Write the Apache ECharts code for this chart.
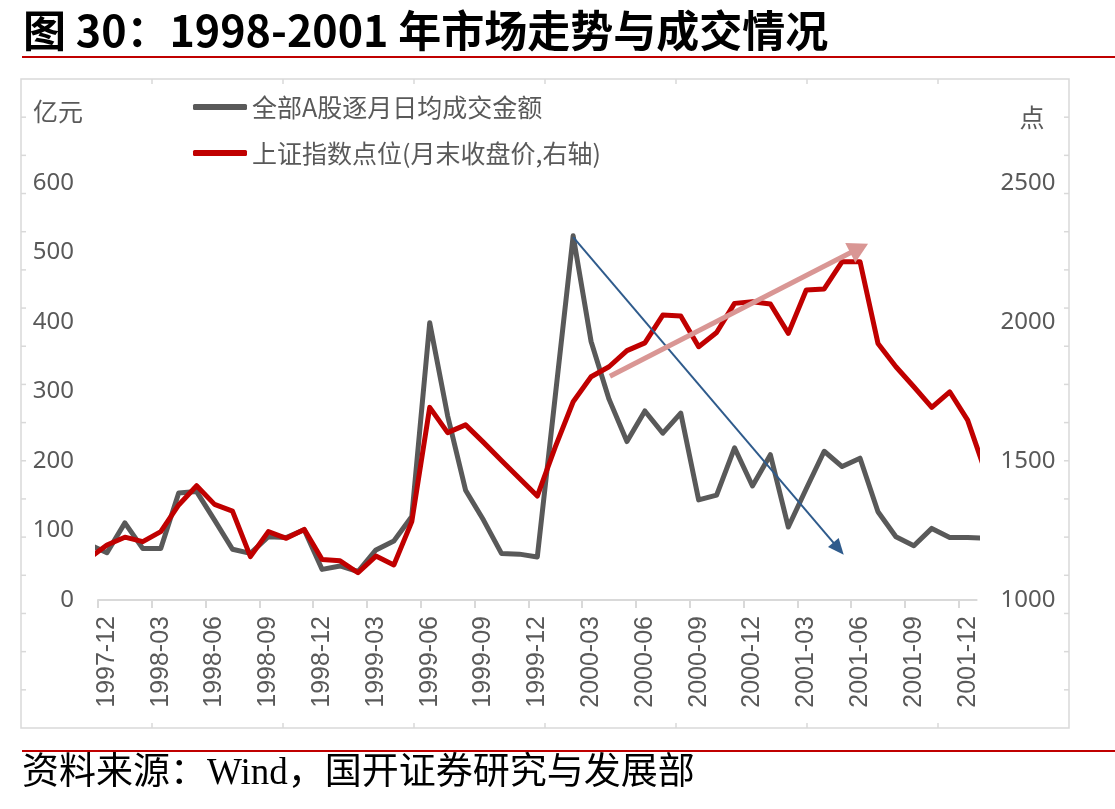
<!DOCTYPE html>
<html><head><meta charset="utf-8">
<script src="https://cdn.jsdelivr.net/npm/echarts@6/dist/echarts.min.js"></script>
<style>html,body{margin:0;padding:0;background:#fff}#c{width:1115px;height:809px}</style>
</head><body><div id="c"></div>
<script>
// Months (1997-11 and 2002-01 are only partly visible, clipped at the plot edges)
const months = ['1997-11','1997-12','1998-01','1998-02','1998-03','1998-04','1998-05','1998-06','1998-07','1998-08','1998-09','1998-10','1998-11','1998-12',
  '1999-01','1999-02','1999-03','1999-04','1999-05','1999-06','1999-07','1999-08','1999-09','1999-10','1999-11','1999-12',
  '2000-01','2000-02','2000-03','2000-04','2000-05','2000-06','2000-07','2000-08','2000-09','2000-10','2000-11','2000-12',
  '2001-01','2001-02','2001-03','2001-04','2001-05','2001-06','2001-07','2001-08','2001-09','2001-10','2001-11','2001-12','2002-01'];
// 全部A股逐月日均成交金额 (亿元)
const turnover = [80,68,111,74,74,154,156,115,73,67,91,90,101,44,49,41,72,85,120,399,265,158,115,67,66,62,
  293,524,372,289,228,272,240,269,144,151,219,164,209,105,160,214,192,204,127,91,78,103,90,90,89];
// 上证指数月末收盘 (点)
const shIndex = [1150,1198,1226,1210,1246,1342,1411,1344,1320,1156,1246,1222,1254,1146,1141,1098,1158,1126,1282,1693,1602,1630,1567,1502,1438,1374,
  1550,1713,1803,1839,1897,1925,2025,2022,1911,1962,2067,2073,2065,1959,2115,2119,2217,2217,1923,1839,1767,1693,1749,1647,1460];
const tickMonths = ['1997-12','1998-03','1998-06','1998-09','1998-12','1999-03','1999-06','1999-09','1999-12',
  '2000-03','2000-06','2000-09','2000-12','2001-03','2001-06','2001-09','2001-12'];
const seriesNames = ['全部A股逐月日均成交金额','上证指数点位(月末收盘价,右轴)'];
const leftAxisName = '亿元';
const rightAxisName = '点';
const titleText = '图 30：1998-2001 年市场走势与成交情况';
const sourceText = '资料来源：Wind，国开证券研究与发展部';
// annotation arrows: [x in month units, value]
const blueArrow = [[26.5, 522], [41.3, 74]];
const pinkArrow = [[28.55, 1805], [42.45, 2265]];

const pos = i => i - 0.5; // month i centre on the value x-axis
const tickVals = tickMonths.map(m => months.indexOf(m) - 1);
const labelVals = tickMonths.map(m => pos(months.indexOf(m)));

const frame = [];
const FX = 21, FY = 79, FW = 1048, FH = 649;
frame.push({type:'rect', shape:{x:FX,y:FY,width:FW,height:FH}, style:{fill:'none',stroke:'#D9D9D9',lineWidth:1.5}, silent:true, z:0});
for (let k = 1; k < 17; k++) {
  const y = FY + FH * k / 17;
  frame.push({type:'line', shape:{x1:FX,y1:y,x2:FX+5,y2:y}, style:{stroke:'#D9D9D9',lineWidth:1.5}, silent:true});
  frame.push({type:'line', shape:{x1:FX+FW-5,y1:y,x2:FX+FW,y2:y}, style:{stroke:'#D9D9D9',lineWidth:1.5}, silent:true});
}
for (let k = 1; k < 8; k++) {
  const x = FX + FW * k / 8;
  frame.push({type:'line', shape:{x1:x,y1:FY,x2:x,y2:FY+5}, style:{stroke:'#D9D9D9',lineWidth:1.5}, silent:true});
  frame.push({type:'line', shape:{x1:x,y1:FY+FH-5,x2:x,y2:FY+FH}, style:{stroke:'#D9D9D9',lineWidth:1.5}, silent:true});
}
frame.push({type:'line', shape:{x1:22,y1:57,x2:1115,y2:57}, style:{stroke:'#C00000',lineWidth:2}, silent:true});
frame.push({type:'line', shape:{x1:22,y1:751,x2:1115,y2:751}, style:{stroke:'#C00000',lineWidth:2}, silent:true});
frame.push({type:'text', left:22, top:756, style:{text:sourceText, fill:'#000', fontSize:37, fontFamily:'"Liberation Serif","Noto Sans CJK SC",serif'}, silent:true});

const chart = echarts.init(document.getElementById('c'));
chart.setOption({
  animation: false,
  backgroundColor: '#fff',
  title: {text: titleText, left: 18, top: 4,
    textStyle: {fontSize: 43, fontWeight: 'bold', color: '#000', fontFamily: '"Noto Sans CJK SC", sans-serif'}},
  legend: {
    data: seriesNames, orient: 'vertical', left: 188, top: 86, itemGap: 14,
    itemWidth: 54, itemHeight: 6, icon: 'roundRect',
    textStyle: {fontSize: 25, lineHeight: 32, color: '#595959', fontFamily: '"Noto Sans CJK SC", sans-serif'}
  },
  graphic: frame,
  grid: {left: 98, right: 138.4, top: 183, bottom: 209, containLabel: false},
  xAxis: {
    type: 'value', min: 0, max: 49, interval: 3,
    splitLine: {show: false},
    axisLine: {show: true, lineStyle: {color: '#D9D9D9', width: 2}},
    axisTick: {show: true, length: 8, customValues: tickVals, lineStyle: {color: '#D9D9D9', width: 2}},
    axisLabel: {
      customValues: labelVals, rotate: 90, margin: 16,
      fontSize: 25, color: '#595959', fontFamily: '"Liberation Sans", Arial, sans-serif',
      formatter: v => months[Math.round(v + 0.5)] || ''
    }
  },
  yAxis: [
    {type: 'value', min: 0, max: 600, interval: 100,
     name: leftAxisName, nameLocation: 'end', nameGap: 72,
     nameTextStyle: {fontSize: 25, color: '#595959', align: 'right', verticalAlign: 'middle', padding: [0, 15, 0, 0], fontFamily: '"Noto Sans CJK SC", sans-serif'},
     axisLine: {show: false}, axisTick: {show: false}, splitLine: {show: false},
     axisLabel: {margin: 24, fontSize: 24, color: '#595959', fontFamily: '"Noto Sans", sans-serif', formatter: v => String(v)}},
    {type: 'value', min: 1000, max: 2500, interval: 500, position: 'right',
     name: rightAxisName, nameLocation: 'end', nameGap: 66,
     nameTextStyle: {fontSize: 25, color: '#595959', align: 'left', verticalAlign: 'middle', padding: [0, 0, 0, 43], fontFamily: '"Noto Sans CJK SC", sans-serif'},
     axisLine: {show: false}, axisTick: {show: false}, splitLine: {show: false},
     axisLabel: {margin: 24, fontSize: 24, color: '#595959', fontFamily: '"Noto Sans", sans-serif', formatter: v => String(v)}}
  ],
  series: [
    {name: seriesNames[0], type: 'line', yAxisIndex: 0, symbol: 'none', clip: true,
     data: turnover.map((v, i) => [pos(i), v]),
     lineStyle: {color: '#595959', width: 5, join: 'round'}, itemStyle: {color: '#595959'}, z: 2},
    {name: seriesNames[1], type: 'line', yAxisIndex: 1, symbol: 'none', clip: true,
     data: shIndex.map((v, i) => [pos(i), v]),
     lineStyle: {color: '#C00000', width: 5, join: 'round'}, itemStyle: {color: '#C00000'}, z: 3},
    {name: 'arrowDown', type: 'line', yAxisIndex: 0, data: [], z: 4,
     markLine: {silent: true, animation: false, symbol: ['none', 'triangle'], symbolSize: [14, 16],
       label: {show: false}, lineStyle: {color: '#2F5B8C', width: 2, type: 'solid'},
       data: [[{coord: blueArrow[0]}, {coord: blueArrow[1]}]]}},
    {name: 'arrowUp', type: 'line', yAxisIndex: 1, data: [], z: 4,
     markLine: {silent: true, animation: false, symbol: ['none', 'triangle'], symbolSize: [22, 20],
       label: {show: false}, lineStyle: {color: '#D99694', width: 5, type: 'solid'},
       data: [[{coord: pinkArrow[0]}, {coord: pinkArrow[1]}]]}}
  ]
});
</script></body></html>
